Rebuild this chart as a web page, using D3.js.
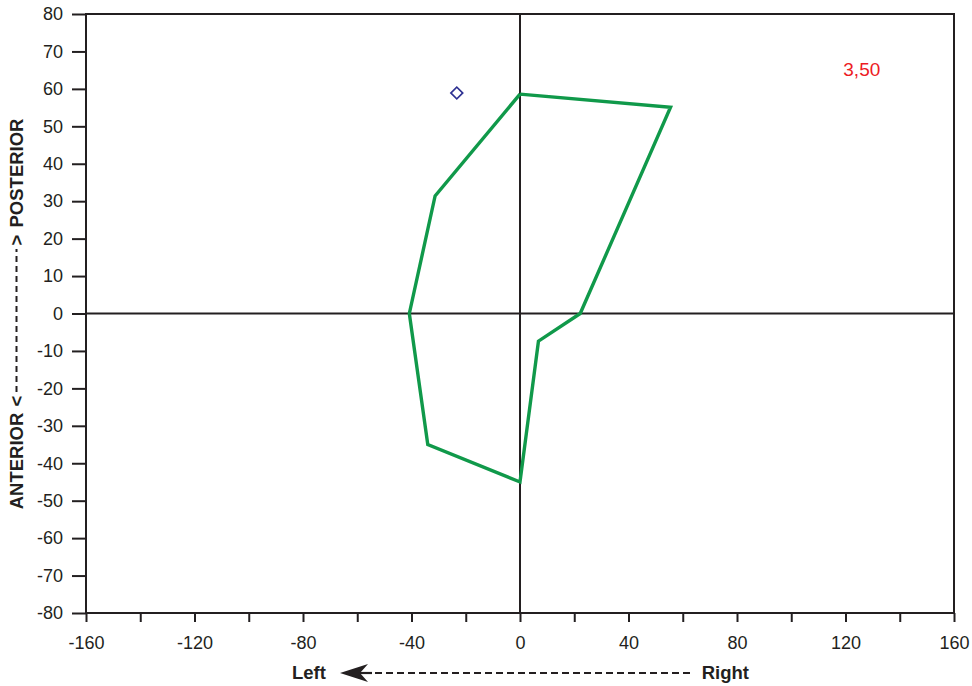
<!DOCTYPE html>
<html>
<head>
<meta charset="utf-8">
<script src="https://cdn.jsdelivr.net/npm/d3@7"></script>
<style>
  body { margin: 0; background: #fff; }
  svg { display: block; font-family: "Liberation Sans", Arial, sans-serif; }
</style>
</head>
<body>
<script>
// outline of the polygon (x = left/right, y = anterior/posterior)
const outlineX = [0, 55.5, 22.2, 6.8, 0, -34, -40.8, -31.3, 0];
const outlineY = [58.6, 55.1, 0, -7.4, -45, -35, 0, 31.4, 58.6];

// single marker point
const markerX = [-23.3];
const markerY = [58.9];

// value label in the upper right
const noteText = ["3,50"];
const noteX = [126];
const noteY = [63.5];

const xTicks = [-160, -140, -120, -100, -80, -60, -40, -20, 0, 20, 40, 60, 80, 100, 120, 140, 160];
const xLabels = [-160, -120, -80, -40, 0, 40, 80, 120, 160];
const yTicks = [-80, -70, -60, -50, -40, -30, -20, -10, 0, 10, 20, 30, 40, 50, 60, 70, 80];

const width = 972, height = 686;
const margin = {top: 14, right: 18, bottom: 73, left: 86};
const ink = "#231f20";

const svg = d3.select("body").append("svg")
    .attr("width", width)
    .attr("height", height);

const xScale = d3.scaleLinear().domain([-160, 160]).range([margin.left, width - margin.right]);
const yScale = d3.scaleLinear().domain([-80, 80]).range([height - margin.bottom, margin.top]);

// frame
svg.append("rect")
    .attr("x", xScale(-160))
    .attr("y", yScale(80))
    .attr("width", xScale(160) - xScale(-160))
    .attr("height", yScale(-80) - yScale(80))
    .attr("fill", "none")
    .attr("stroke", ink)
    .attr("stroke-width", 2);

// zero lines
svg.append("line")
    .attr("x1", xScale(-160)).attr("x2", xScale(160))
    .attr("y1", yScale(0)).attr("y2", yScale(0))
    .attr("stroke", ink).attr("stroke-width", 2);
svg.append("line")
    .attr("x1", xScale(0)).attr("x2", xScale(0))
    .attr("y1", yScale(80)).attr("y2", yScale(-80))
    .attr("stroke", ink).attr("stroke-width", 2);

// x axis
const xAxis = d3.axisBottom(xScale)
    .tickValues(xTicks)
    .tickSize(9)
    .tickPadding(14)
    .tickFormat((d) => xLabels.includes(d) ? d : "");
const gx = svg.append("g")
    .attr("class", "xaxis")
    .attr("transform", "translate(0," + yScale(-80) + ")")
    .call(xAxis);
gx.select(".domain").remove();
gx.selectAll(".tick line").attr("stroke", ink).attr("stroke-width", 2);
gx.selectAll(".tick text")
    .attr("fill", ink)
    .style("font-size", "18px");

// y axis
const yAxis = d3.axisLeft(yScale)
    .tickValues(yTicks)
    .tickSize(14)
    .tickPadding(9)
    .tickFormat((d) => d);
const gy = svg.append("g")
    .attr("class", "yaxis")
    .attr("transform", "translate(" + xScale(-160) + ",0)")
    .call(yAxis);
gy.select(".domain").remove();
gy.selectAll(".tick line").attr("stroke", ink).attr("stroke-width", 2);
gy.selectAll(".tick text")
    .attr("fill", ink)
    .style("font-size", "18px");

// polygon
const pts = outlineX.map((x, i) => [x, outlineY[i]]);
const line = d3.line().x((d) => xScale(d[0])).y((d) => yScale(d[1]));
svg.append("path")
    .datum(pts)
    .attr("d", line)
    .attr("fill", "none")
    .attr("stroke", "#10994a")
    .attr("stroke-width", 3.4)
    .attr("stroke-linejoin", "miter");

// marker
svg.selectAll("path.marker")
    .data(markerX.map((x, i) => [x, markerY[i]]))
    .join("path")
    .attr("class", "marker")
    .attr("d", d3.symbol().type(d3.symbolSquare).size(70))
    .attr("transform", (d) => "translate(" + xScale(d[0]) + "," + yScale(d[1]) + ") rotate(45)")
    .attr("fill", "none")
    .attr("stroke", "#2e3192")
    .attr("stroke-width", 1.7);

// note
svg.selectAll("text.note")
    .data(noteText)
    .join("text")
    .attr("class", "note")
    .attr("x", (d, i) => xScale(noteX[i]))
    .attr("y", (d, i) => yScale(noteY[i]))
    .attr("text-anchor", "middle")
    .attr("fill", "#ed1c24")
    .style("font-size", "19px")
    .text((d) => d);

// x title: Left <----- Right
const xt = svg.append("g").attr("class", "xtitle");
xt.append("text")
    .attr("x", 292).attr("y", 679)
    .attr("fill", ink)
    .style("font-size", "18.5px").style("font-weight", "bold")
    .text("Left");
xt.append("text")
    .attr("x", 749).attr("y", 679)
    .attr("text-anchor", "end")
    .attr("fill", ink)
    .style("font-size", "18.5px").style("font-weight", "bold")
    .text("Right");
xt.append("line")
    .attr("x1", 364).attr("x2", 692)
    .attr("y1", 673).attr("y2", 673)
    .attr("stroke", ink).attr("stroke-width", 2)
    .attr("stroke-dasharray", "7,4");
xt.append("line")
    .attr("x1", 350).attr("x2", 372)
    .attr("y1", 673).attr("y2", 673)
    .attr("stroke", ink).attr("stroke-width", 2.2);
xt.append("path")
    .attr("d", "M340,673 L368,664 L360,673 L368,682 Z")
    .attr("fill", ink);

// y title: ANTERIOR <----> POSTERIOR (rotated)
const yt = svg.append("g").attr("class", "ytitle")
    .attr("transform", "translate(23,0) rotate(-90)");
yt.append("text")
    .attr("x", -461).attr("y", 0)
    .attr("text-anchor", "middle")
    .attr("fill", ink)
    .style("font-size", "18.5px").style("font-weight", "bold")
    .text("ANTERIOR");
yt.append("text")
    .attr("x", -173).attr("y", 0)
    .attr("text-anchor", "middle")
    .attr("fill", ink)
    .style("font-size", "18.5px").style("font-weight", "bold")
    .text("POSTERIOR");
yt.append("text")
    .attr("x", -401).attr("y", 0)
    .attr("text-anchor", "middle")
    .attr("fill", ink)
    .style("font-size", "18.5px").style("font-weight", "bold")
    .text("<");
yt.append("text")
    .attr("x", -240).attr("y", 0)
    .attr("text-anchor", "middle")
    .attr("fill", ink)
    .style("font-size", "18.5px").style("font-weight", "bold")
    .text(">");
yt.append("line")
    .attr("x1", -392).attr("x2", -249)
    .attr("y1", -6.5).attr("y2", -6.5)
    .attr("stroke", ink).attr("stroke-width", 2)
    .attr("stroke-dasharray", "6,4");
</script>
</body>
</html>
